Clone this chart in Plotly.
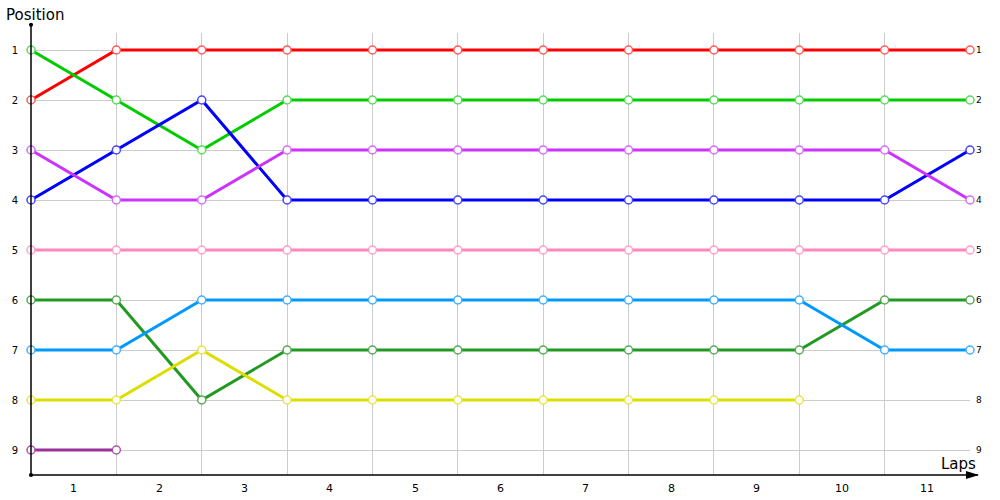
import plotly.graph_objects as go

laps = list(range(12))
lap_labels = ["1", "2", "3", "4", "5", "6", "7", "8", "9", "10", "11"]
positions = [1, 2, 3, 4, 5, 6, 7, 8, 9]

red = [2, 1, 1, 1, 1, 1, 1, 1, 1, 1, 1, 1]
green = [1, 2, 3, 2, 2, 2, 2, 2, 2, 2, 2, 2]
blue = [4, 3, 2, 4, 4, 4, 4, 4, 4, 4, 4, 3]
violet = [3, 4, 4, 3, 3, 3, 3, 3, 3, 3, 3, 4]
pink = [5, 5, 5, 5, 5, 5, 5, 5, 5, 5, 5, 5]
darkgreen = [6, 6, 8, 7, 7, 7, 7, 7, 7, 7, 6, 6]
lightblue = [7, 7, 6, 6, 6, 6, 6, 6, 6, 6, 7, 7]
yellow = [8, 8, 7, 8, 8, 8, 8, 8, 8, 8]
purple = [9, 9]

series = [
    (red, "#ff0000", "#ff5a5a"),
    (green, "#00cc00", "#55dd55"),
    (blue, "#0000ff", "#4444ff"),
    (violet, "#cc33ff", "#d46cff"),
    (pink, "#ff88bb", "#ff9fc8"),
    (darkgreen, "#229922", "#55aa55"),
    (lightblue, "#0099ff", "#44b0ff"),
    (yellow, "#dddd00", "#e6e644"),
    (purple, "#993399", "#aa55aa"),
]

fig = go.Figure()
for vals, col, mcol in series:
    fig.add_trace(go.Scatter(
        x=laps[:len(vals)], y=vals, mode="lines+markers",
        line=dict(color=col, width=3),
        marker=dict(size=8, color="white", line=dict(color=mcol, width=1.5)),
        showlegend=False, hoverinfo="skip", cliponaxis=False))

annotations = [
    dict(text="Position", xref="paper", yref="paper", x=-0.029, y=1.04,
         xanchor="left", yanchor="middle", showarrow=False,
         font=dict(family="DejaVu Sans", size=15, color="#000")),
    dict(text="Laps", xref="paper", yref="paper", x=1.0085, y=0.026,
         xanchor="right", yanchor="middle", showarrow=False,
         font=dict(family="DejaVu Sans", size=15, color="#000")),
]
for p in positions:
    annotations.append(dict(text=str(p), x=11, y=p, xref="x", yref="y",
                            xanchor="left", yanchor="middle", xshift=4,
                            showarrow=False,
                            font=dict(family="DejaVu Sans", size=9, color="#000")))
for i, lab in enumerate(lap_labels):
    annotations.append(dict(text=lab, x=i + 0.5, y=0, xref="x", yref="paper",
                            xanchor="center", yanchor="middle", yshift=-13,
                            showarrow=False,
                            font=dict(family="DejaVu Sans", size=11, color="#000")))

fig.update_layout(
    width=1000, height=500,
    margin=dict(l=31, r=30, t=33, b=25, pad=0, autoexpand=False),
    plot_bgcolor="white", paper_bgcolor="white",
    font=dict(family="DejaVu Sans", color="#000"),
    xaxis=dict(range=[0, 11], tickvals=laps, showticklabels=False,
               showgrid=True, gridcolor="#cccccc", gridwidth=1,
               zeroline=False, showline=False, ticks=""),
    yaxis=dict(range=[9.5, 0.66], tickvals=positions,
               ticktext=[str(p) for p in positions],
               tickfont=dict(family="DejaVu Sans", size=10),
               showgrid=True, gridcolor="#cccccc", gridwidth=1,
               zeroline=False, showline=False, ticks="", ticklabelstandoff=12),
    shapes=[
        dict(type="line", xref="paper", yref="paper", x0=0, x1=1.0085,
             y0=0, y1=0, line=dict(color="black", width=1.5), layer="above"),
        dict(type="line", xref="paper", yref="paper", x0=0, x1=0,
             y0=0, y1=1.018, line=dict(color="black", width=1.5), layer="above"),
        dict(type="circle", xref="paper", yref="paper", x0=-0.0022, x1=0.0022,
             y0=1.014, y1=1.023, fillcolor="black", line=dict(color="black", width=0)),
        dict(type="circle", xref="paper", yref="paper", x0=-0.0022, x1=0.0022,
             y0=-0.0045, y1=0.0045, fillcolor="black", line=dict(color="black", width=0)),
        dict(type="path", xref="paper", yref="paper",
             path="M 0.9957 0.009 L 1.0096 0 L 0.9957 -0.009 Z",
             fillcolor="black", line=dict(color="black", width=0)),
    ],
    annotations=annotations,
)

fig.write_html("out.html", config={"displayModeBar": False},
               post_script="document.body.style.margin='0';document.body.style.overflow='hidden';")
